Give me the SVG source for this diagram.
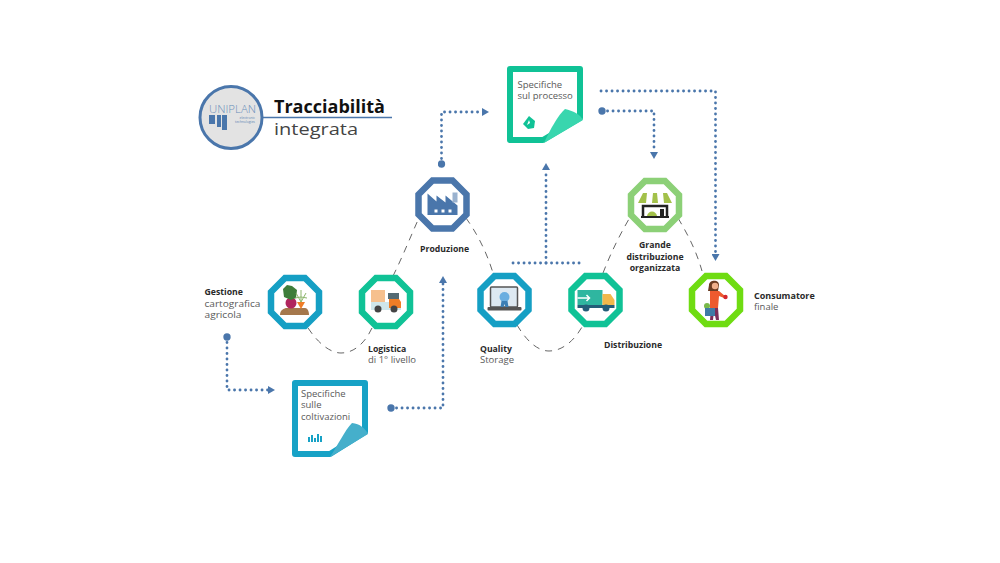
<svg xmlns="http://www.w3.org/2000/svg" width="1000" height="563" viewBox="0 0 1000 563">
<defs>
<polygon id="oct" points="-10,-24 10,-24 24,-10 24,10 10,24 -10,24 -24,10 -24,-10"/>
<marker id="ah" viewBox="0 0 10 10" refX="0" refY="5" markerWidth="7" markerHeight="8" markerUnits="userSpaceOnUse" orient="auto" preserveAspectRatio="none"><path d="M0,0 L10,5 L0,10 Z" fill="#4a76ab"/></marker>
<marker id="dot" viewBox="0 0 12 12" refX="6" refY="6" markerWidth="8" markerHeight="8" markerUnits="userSpaceOnUse"><circle cx="6" cy="6" r="5.500" fill="#4a76ab"/></marker>
</defs>
<style>
text{font-family:"Open Sans","Liberation Sans",sans-serif;fill:#5a5a5a;font-size:9.5px}
.b{font-weight:700;fill:#2a2a2a;font-size:8.700px}
.o{fill:#fff;stroke-width:6.5;stroke-linejoin:miter}
.d{fill:none;stroke:#4a76ab;stroke-width:2.800;stroke-linecap:round;stroke-dasharray:.1 5.400}
.c{fill:none;stroke:#666;stroke-width:1;stroke-dasharray:7 6}
</style>
<rect width="1000" height="563" fill="#fff"/>
<g id="connectors">
<path class="c" d="M308,328 C318,343 330,353 341,353 C354,353 365,343 372,328"/>
<path class="c" d="M393,276 C402,258 410,238 418,220"/>
<path class="c" d="M466,218 C476,232 486,250 493,273"/>
<path class="c" d="M517,325 C526,340 537,351 549,351 C562,351 574,341 582,327"/>
<path class="c" d="M603,273 C610,255 618,238 629,219"/>
<path class="c" d="M678,218 C688,235 696,250 702,271"/>
<path class="d" d="M441.500,164 V112 H482" marker-end="url(#ah)" marker-start="url(#dot)"/>
<path class="d" d="M602,111 H654 V152" marker-end="url(#ah)" marker-start="url(#dot)"/>
<path class="d" d="M601,91 H715.500 V254" marker-end="url(#ah)"/>
<path class="d" d="M546,263 V170" marker-end="url(#ah)"/>
<path class="d" d="M513,263 H580"/>
<path class="d" d="M227,337 V390 H268" marker-end="url(#ah)" marker-start="url(#dot)"/>
<path class="d" d="M391,408 H443 V283" marker-end="url(#ah)" marker-start="url(#dot)"/>
</g>
<g id="logo">
<circle cx="231" cy="117.500" r="31" fill="#e3e3e3" stroke="#4a76ab" stroke-width="3"/>
<text x="209" y="113" textLength="47" lengthAdjust="spacingAndGlyphs" style="font-size:10.500px;fill:#6a8fba;font-weight:300">UNIPLAN</text>
<path d="M209,115h6v9h-6zM217,115h4v12h-4zM222,115h5v15h-5z" fill="#4a76ab"/>
<text x="255" y="119" text-anchor="end" style="font-size:3.400px;fill:#5b83b3">electronic</text>
<text x="255" y="123" text-anchor="end" style="font-size:3.400px;fill:#5b83b3">technologies</text>
</g>
<g id="title">
<path d="M263,117.500H392" stroke="#4a76ab" stroke-width="1.600"/>
<text x="274" y="113" textLength="111" lengthAdjust="spacingAndGlyphs" style="font-size:17px;font-weight:700;fill:#111">Tracciabilità</text>
<text x="274" y="135" textLength="84" lengthAdjust="spacingAndGlyphs" style="font-size:17px;fill:#444">integrata</text>
</g>
<g id="doc-processo">
<path d="M510,69H580V118L543,140H510Z" fill="#fff" stroke="#10c296" stroke-width="6" stroke-linejoin="round"/>
<path d="M544,143C550,130 558,115 565,109C573,111 580,114 583,120Z" fill="#38d6ae"/>
<path d="M529,116l6,5-1,7-6,1-5,-5z" fill="#10c296"/>
<path d="M529,120l1,3-3,2z" fill="#fff"/>
<text x="517.500" y="88">Specifiche</text>
<text x="517.500" y="99">sul processo</text>
</g>
<g id="doc-coltivazioni">
<path d="M295,383H365V432L330,454H295Z" fill="#fff" stroke="#17a2c6" stroke-width="6" stroke-linejoin="round"/>
<path d="M330,457C338,445 345,430 352,423C360,424 365,428 368,434Z" fill="#45afcb"/>
<path d="M308,442v-5h2v5zM311,442v-7h2v7zM314,442v-4h2v4zM317,442v-8h2v8zM320,442v-6h2v6z" fill="#17a2c6"/>
<text x="301" y="397">Specifiche</text>
<text x="301" y="408">sulle</text>
<text x="301" y="419.500">coltivazioni</text>
</g>
<g id="n-gestione" transform="translate(295,302)">
<use href="#oct" class="o" stroke="#159fc4"/>
<path d="M-15,13C-15,8-11,6-8,6H10C13,6 14,10 14,13Z" fill="#a5784c"/>
<circle cx="-4" cy="1" r="5.500" fill="#b0255e"/>
<path d="M-11,-5L-12,-13 -8,-17 -3,-16 2,-12 1,-4-4,-2Z" fill="#3e7d3a"/>
<path d="M2,0H10L6,7Z" fill="#ef7d26"/>
<path d="M6,0L1,-9M6,0L11,-9M6,0V-12M6,-5L0,-4M6,-5L12,-4" stroke="#8cb56b" stroke-width="1"/>
</g>
<g id="n-logistica" transform="translate(386,302)">
<use href="#oct" class="o" stroke="#10c296"/>
<rect x="-15" y="-12" width="14" height="12" fill="#f6c08e"/>
<rect x="-15" y="0" width="30" height="8" fill="#cfe6ea"/>
<rect x="2" y="-9" width="11" height="6" fill="#546a73"/>
<path d="M3,-3H13L15,0V6H3Z" fill="#ef7d26"/>
<circle cx="-8" cy="7" r="3.500" fill="#444"/><circle cx="8" cy="7" r="3.500" fill="#444"/>
</g>
<g id="n-produzione" transform="translate(442.500,204.500)">
<use href="#oct" class="o" stroke="#4a76ab"/>
<path d="M-15,10.500V-11L-6,-3V-9L3,-2V-9L15,1V10.500Z" fill="#4a76ab"/>
<rect x="-8" y="5" width="3" height="3" fill="#fff"/><rect x="-1" y="5" width="3" height="3" fill="#fff"/><rect x="6" y="5" width="3" height="3" fill="#fff"/>
<rect x="10" y="-12" width="5" height="10" fill="#9ab2cf"/>
</g>
<g id="n-quality" transform="translate(504.500,300)">
<use href="#oct" class="o" stroke="#159fc4"/>
<rect x="-14" y="-13" width="27" height="20" rx="1" fill="#dde9f2" stroke="#555" stroke-width="1.500"/>
<rect x="-17" y="7" width="34" height="3.500" rx="1" fill="#555"/>
<circle cy="-3" r="5" fill="#6aaee0"/>
<path d="M-3,1l-1,6h3l1,-3 1,3h3l-1,-6z" fill="#3d7fb5"/>
</g>
<g id="n-distribuzione" transform="translate(595.500,300)">
<use href="#oct" class="o" stroke="#10c296"/>
<rect x="-18" y="-10" width="25" height="15" fill="#2fb6a0"/>
<path d="M-18,-2H-6M-9,-5l3,3-3,3" stroke="#fff" stroke-width="1.500" fill="none"/>
<path d="M7,-6H15L19,0V5H7Z" fill="#f2b84b"/>
<rect x="-18" y="5" width="37" height="3" fill="#245d78"/>
<circle cx="-9.500" cy="8" r="3.500" fill="#245d78"/><circle cx="10.500" cy="8" r="3.500" fill="#245d78"/>
</g>
<g id="n-grande" transform="translate(655,205)">
<use href="#oct" class="o" stroke="#8cd077"/>
<path d="M-17,-2L-12,-12H-8L-9,-2ZM-3,-2L-2,-12H2L3,-2ZM9,-2L8,-12H12L17,-2Z" fill="#a3c14a"/>
<path d="M-12,11V1H12V11" stroke="#222" stroke-width="2.500" fill="none"/>
<path d="M-14,12H14" stroke="#222" stroke-width="2"/>
<path d="M-8,11C-7,5 1,5 2,11Z" fill="#a3c14a"/>
<rect x="5" y="4" width="4" height="7" fill="#222"/>
</g>
<g id="n-consumatore" transform="translate(716,300)">
<use href="#oct" class="o" stroke="#6fdc12"/>
<path d="M-7,-15C-7,-20 3,-21 3,-15L2,-9H-8Z" fill="#6b3c22"/>
<circle cx="-1" cy="-14" r="3.200" fill="#f0b08c"/>
<path d="M-6,-9L3,-9 9,-4 8,-2 3,-4 2,8H-6Z" fill="#ee5a2e"/>
<circle cx="9.500" cy="-3" r="2.200" fill="#d3262c"/>
<path d="M-5,8H2L3,20H0L-2,11-3,20H-6Z" fill="#7c2f5a"/>
<circle cx="-9" cy="6" r="3" fill="#79b84a"/>
<rect x="-11" y="8" width="10" height="8" fill="#3f7ba6"/>
</g>
<g id="labels">
<text class="b" x="204.500" y="295">Gestione</text>
<text x="204.500" y="306.500" textLength="56" lengthAdjust="spacingAndGlyphs">cartografica</text>
<text x="204.500" y="318" textLength="37" lengthAdjust="spacingAndGlyphs">agricola</text>
<text class="b" x="368" y="352">Logistica</text>
<text x="368" y="363">di 1° livello</text>
<text class="b" x="420" y="252">Produzione</text>
<text class="b" x="480" y="352">Quality</text>
<text x="480" y="363">Storage</text>
<text class="b" x="604" y="348">Distribuzione</text>
<text class="b" x="655" y="248" text-anchor="middle">Grande</text>
<text class="b" x="655" y="259.500" text-anchor="middle">distribuzione</text>
<text class="b" x="655" y="270.500" text-anchor="middle">organizzata</text>
<text class="b" x="754" y="299" style="font-size:9px">Consumatore</text>
<text x="754" y="310">finale</text>
</g>
</svg>
